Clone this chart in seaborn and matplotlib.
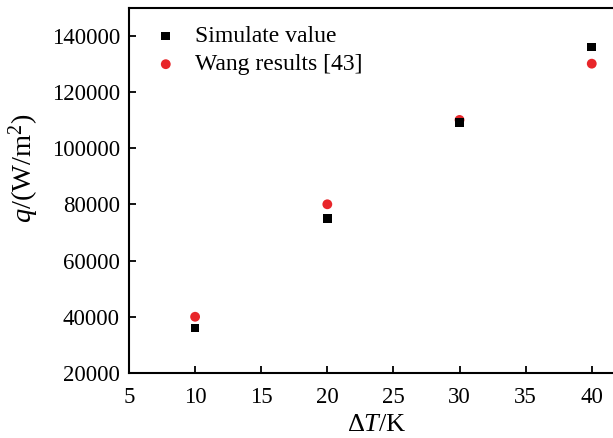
import matplotlib
matplotlib.use("Agg")
import matplotlib.pyplot as plt
import seaborn as sns
import pandas as pd

delta_T = [10, 20, 30, 40]
simulate_value = [36000, 75000, 109000, 136000]
wang_results = [40000, 80000, 110000, 130000]
x_ticks = [5, 10, 15, 20, 25, 30, 35, 40]
y_ticks = [20000, 40000, 60000, 80000, 100000, 120000, 140000]

sns.set_style("ticks")
plt.rcParams['font.family'] = ['Liberation Serif', 'DejaVu Serif']
plt.rcParams['mathtext.fontset'] = 'custom'
plt.rcParams['mathtext.rm'] = 'Liberation Serif'
plt.rcParams['mathtext.it'] = 'Liberation Serif:italic'
for k in ['text.color', 'axes.labelcolor', 'xtick.color', 'ytick.color', 'axes.edgecolor']:
    plt.rcParams[k] = 'black'

df_sim = pd.DataFrame({"dT": delta_T, "q": simulate_value})
df_wang = pd.DataFrame({"dT": delta_T, "q": wang_results})

fig = plt.figure(figsize=(6.13, 4.38), dpi=100)
ax = fig.add_axes([129/613, 1 - 373/438, 1 - 129/613 + 0.002, (373 - 8)/438])

sns.scatterplot(data=df_wang, x="dT", y="q", ax=ax, marker="o", color="#e8262a",
                s=50, edgecolor="none", label="Wang results [43]", zorder=3)
sns.scatterplot(data=df_sim, x="dT", y="q", ax=ax, marker="s", color="black",
                s=38, edgecolor="none", label="Simulate value", zorder=3)

ax.set_xlim(5, 41.7)
ax.set_ylim(20000, 149800)
ax.set_xticks(x_ticks)
ax.set_yticks(y_ticks)
ax.tick_params(direction="in", length=5, width=1.3, labelsize=16.5)
ax.tick_params(axis="x", pad=10)
ax.tick_params(axis="y", pad=6.5)
for s in ["left", "bottom", "top"]:
    ax.spines[s].set_linewidth(1.5)
ax.spines["right"].set_visible(False)

ax.set_xlabel(r"$\Delta\mathit{T}$/K", fontsize=19)
ax.xaxis.set_label_coords((376 - 129) / 484, -(436 - 373) / 365)
ax.xaxis.label.set_va("bottom")
ax.set_ylabel(r"$\mathit{q}$/(W/m$^2$)", fontsize=20.5)
ax.yaxis.set_label_coords((41 - 129) / 484, (373 - 168) / 365)

handles, labels = ax.get_legend_handles_labels()
order = [labels.index("Simulate value"), labels.index("Wang results [43]")]
ax.legend([handles[i] for i in order], [labels[i] for i in order],
          loc="upper left", frameon=False, fontsize=17,
          bbox_to_anchor=(0.032, 0.978), borderaxespad=0.0, borderpad=0.4,
          handlelength=1.0, handletextpad=0.73, labelspacing=0.29)

fig.savefig("out.png", dpi=100)
